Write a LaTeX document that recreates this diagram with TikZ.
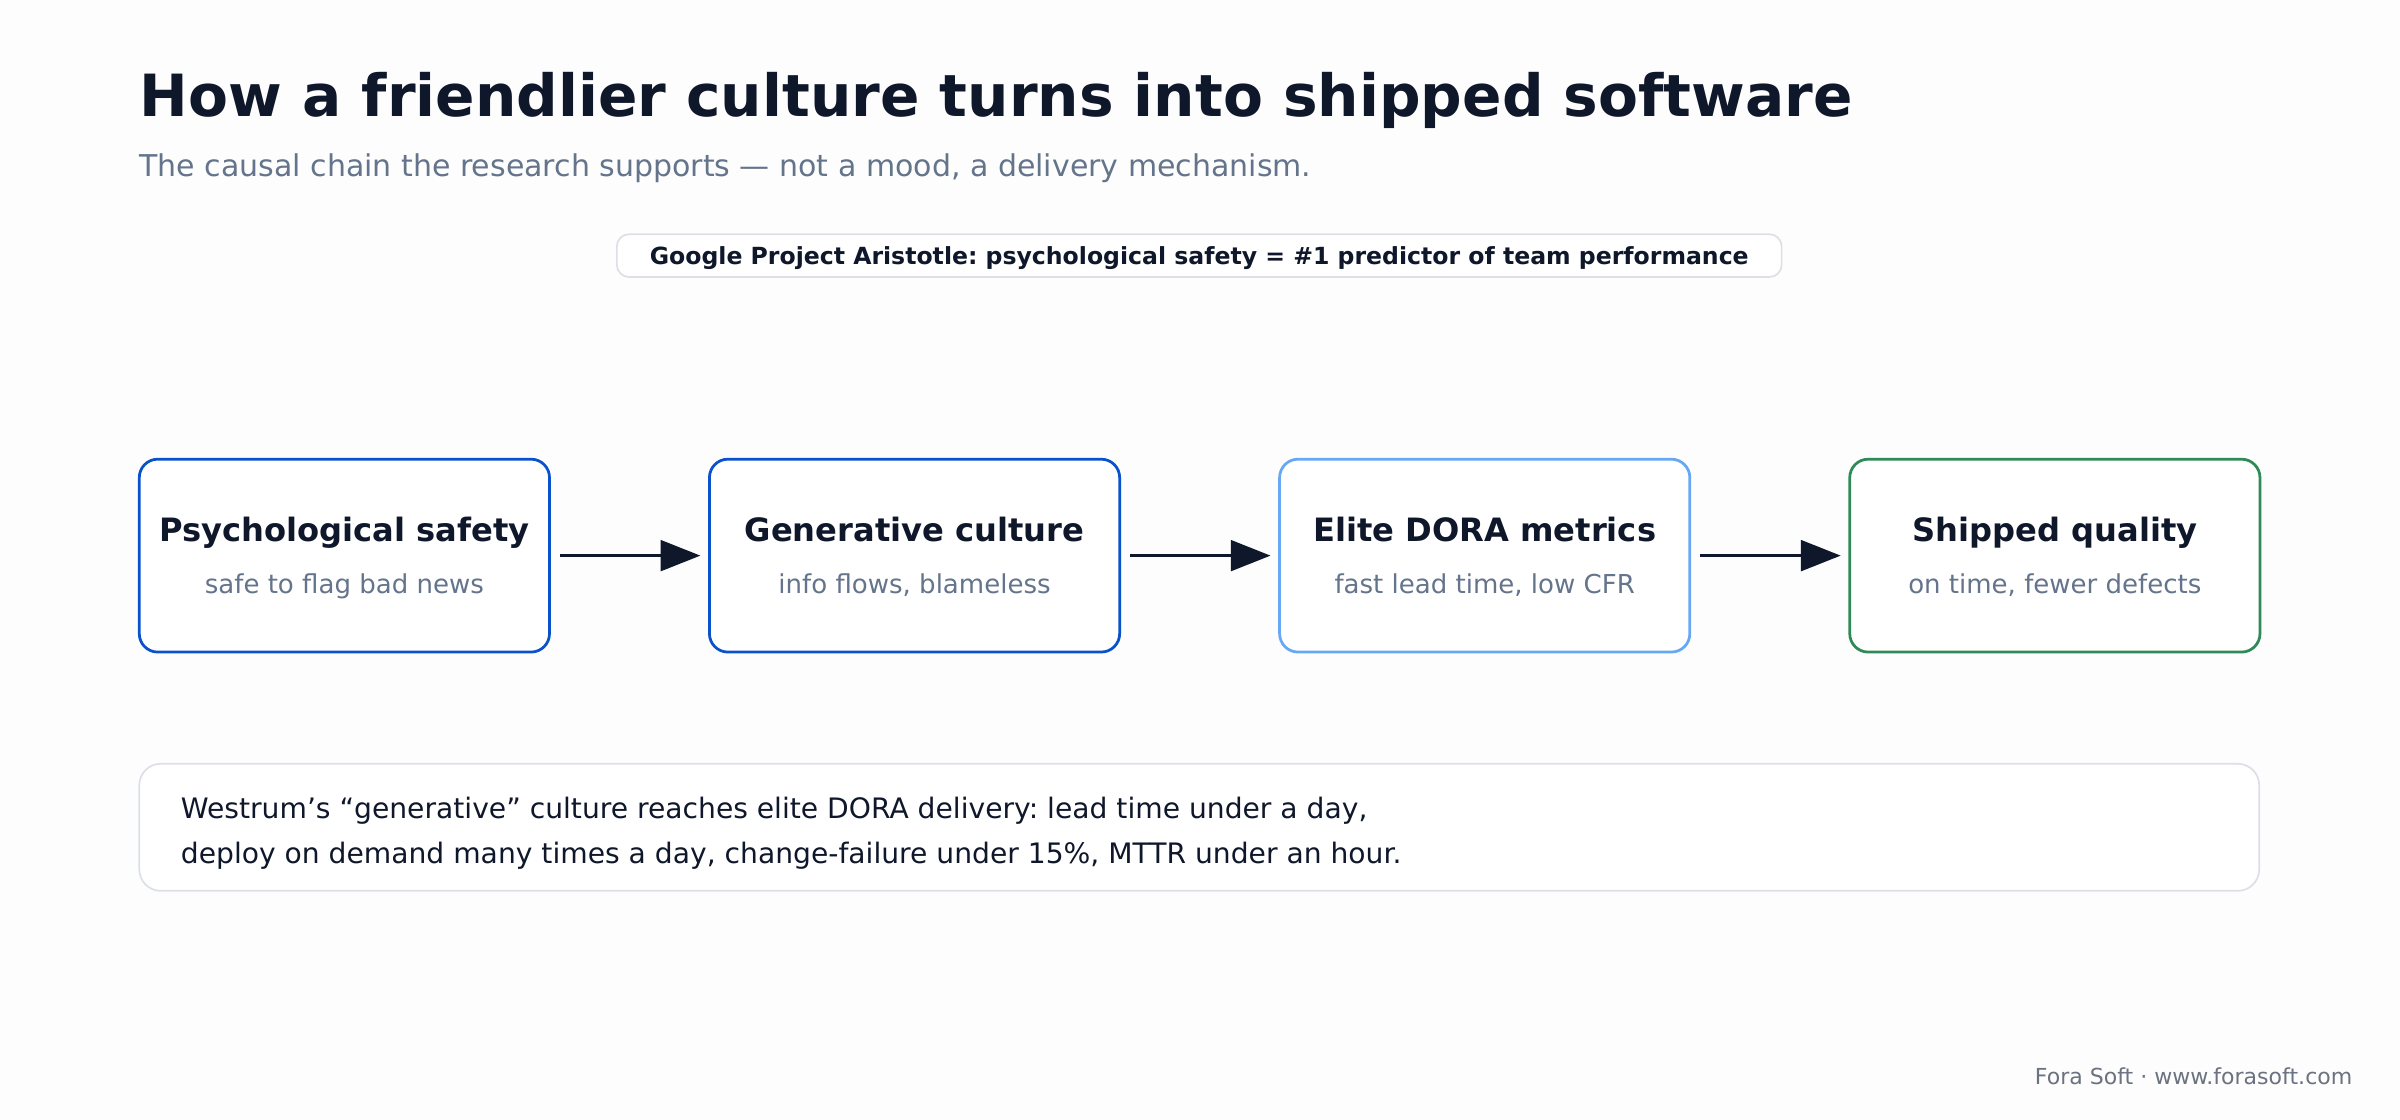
\documentclass[tikz,border=0pt]{standalone}
\usepackage{fontspec}
\setmainfont{DejaVu Sans}
\usetikzlibrary{arrows.meta}
\frenchspacing
\definecolor{ink}{HTML}{0F172A}
\definecolor{muted}{HTML}{64748B}
\definecolor{strongblue}{HTML}{0A52CC}
\definecolor{softblue}{HTML}{66A8F5}
\definecolor{seagreen}{HTML}{2E8B57}
\definecolor{hairline}{HTML}{DCE0E6}
\definecolor{footgray}{HTML}{6B7280}

\begin{document}
\begin{tikzpicture}[
  x=1pt, y=-1pt,
  stagebox/.style={rectangle, draw, line width=1.8pt, rounded corners=12pt, fill=white,
    minimum width=268pt, minimum height=126pt, inner sep=0pt},
  stagetitle/.style={anchor=base, text=ink, font=\fontsize{21}{25}\selectfont\bfseries, inner sep=0pt},
  stagenote/.style={anchor=base, text=muted, font=\fontsize{17}{20}\selectfont, inner sep=0pt},
  notebox/.style={rectangle, draw=hairline, line width=1.1pt, fill=white, inner sep=0pt},
  bodytext/.style={anchor=base west, text=ink, font=\fontsize{18.4}{22}\selectfont, inner sep=0pt},
  arr/.style={-{Triangle[length=26pt,width=20pt]}, draw=ink, line width=2.2pt,
    shorten <=6pt, shorten >=5pt},
  ]

\useasboundingbox[fill={rgb,255:red,253;green,253;blue,253}] (0,0) rectangle (1568,731.7);

% heading
\node[anchor=base west, text=ink, font=\fontsize{38}{44}\selectfont\bfseries, inner sep=0pt]
  (title) at (91,76) {How a friendlier culture turns into shipped software};
\node[anchor=base west, text=muted, font=\fontsize{19.6}{23}\selectfont, inner sep=0pt]
  (subtitle) at (91,115) {The causal chain the research supports — not a mood, a delivery mechanism.};

% finding
\node[notebox, rounded corners=8pt, minimum width=761pt, minimum height=28pt]
  (aristotle) at (783.5,167) {};
\node[anchor=base, text=ink, font=\fontsize{15.4}{18}\selectfont\bfseries, inner sep=0pt]
  (aristotleT) at (783.5,172.5)
  {Google Project Aristotle: psychological safety = \#1 predictor of team performance};

% the chain
\node[stagebox, draw=strongblue] (psy) at (225,363) {};
\node[stagebox, draw=strongblue] (gen) at (597.5,363) {};
\node[stagebox, draw=softblue] (dora) at (970,363) {};
\node[stagebox, draw=seagreen] (ship) at (1342.5,363) {};

\node[stagetitle] (psyT) at (225,353.5) {Psychological safety};
\node[stagenote] (psyN) at (225,388) {safe to flag bad news};
\node[stagetitle] (genT) at (597.5,353.5) {Generative culture};
\node[stagenote] (genN) at (597.5,388) {info flows, blameless};
\node[stagetitle] (doraT) at (970,353.5) {Elite DORA metrics};
\node[stagenote] (doraN) at (970,388) {fast lead time, low CFR};
\node[stagetitle] (shipT) at (1342.5,353.5) {Shipped quality};
\node[stagenote] (shipN) at (1342.5,388) {on time, fewer defects};

\draw[arr] (psy) -- (gen);
\draw[arr] (gen) -- (dora);
\draw[arr] (dora) -- (ship);

% evidence
\node[notebox, rounded corners=14pt, minimum width=1385pt, minimum height=83pt]
  (westrum) at (783.5,540.5) {};
\node[bodytext] (line1) at (118,535)
  {Westrum’s “generative” culture reaches elite DORA delivery: lead time under a day,};
\node[bodytext] (line2) at (118,564)
  {deploy on demand many times a day, change-failure under 15\%, MTTR under an hour.};

\node[anchor=base east, text=footgray, font=\fontsize{14.4}{17}\selectfont, inner sep=0pt]
  (credit) at (1537,708.5) {Fora Soft · www.forasoft.com};

\end{tikzpicture}
\end{document}
